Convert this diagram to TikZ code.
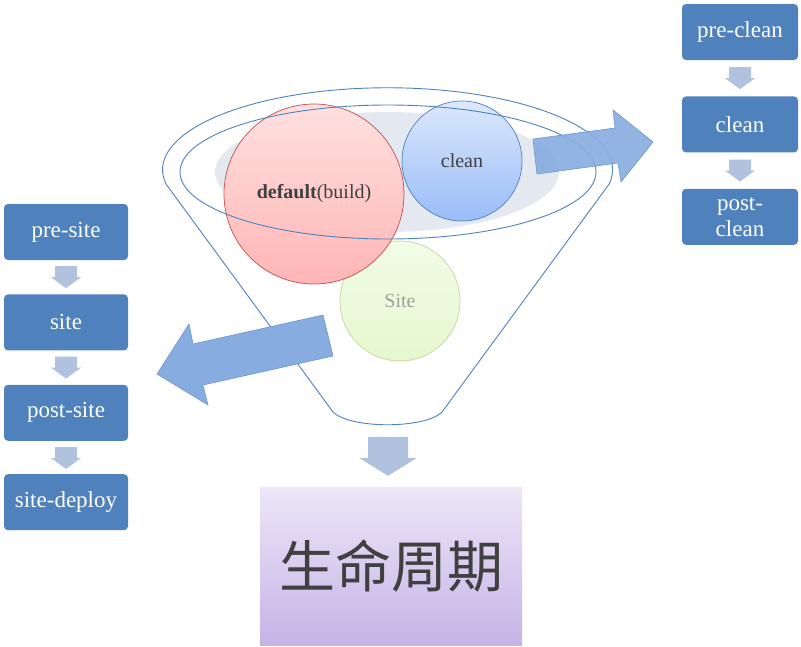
\documentclass[tikz,border=0pt]{standalone}
\usepackage{fontspec}
\setmainfont{Liberation Serif}
\newfontfamily\cjk{Noto Sans CJK SC}
\usetikzlibrary{positioning}

\definecolor{boxblue}{HTML}{4F81BD}
\definecolor{smallarrow}{HTML}{B1C2DF}
\definecolor{bigarrow}{HTML}{86ACE0}
\definecolor{bigarrowline}{HTML}{6F95CF}
\definecolor{ellgrey}{HTML}{E3E8F1}
\definecolor{txtgrey}{HTML}{404040}
\definecolor{sitegrey}{HTML}{A0A0A0}
\definecolor{siteline}{HTML}{C3D69B}
\definecolor{sitetop}{HTML}{F2FCE6}
\definecolor{sitebot}{HTML}{E5F8CF}
\definecolor{buildline}{HTML}{C0504D}
\definecolor{buildtop}{HTML}{FFE0E0}
\definecolor{buildbot}{HTML}{FFB5B5}
\definecolor{cleantop}{HTML}{DCE8FC}
\definecolor{cleanbot}{HTML}{99BCF8}
\definecolor{lifetop}{HTML}{EDE6F8}
\definecolor{lifebot}{HTML}{C5B3E7}

\begin{document}
\begin{tikzpicture}[
    x=1pt, y=-1pt,
    phase/.style={fill=boxblue, rounded corners=4pt, text=white, align=center,
        font=\fontsize{23}{26}\selectfont, inner sep=2pt, minimum height=56pt},
    lifering/.style={draw=boxblue, line width=0.9pt},
    bubble/.style={circle, line width=0.7pt, font=\fontsize{20}{24}\selectfont, text=txtgrey},
    smallarr/.pic={\fill[smallarrow] (-11,0) -- (11,0) -- (11,11) -- (15,11) -- (0,22) -- (-15,11) -- (-11,11) -- cycle;},
    bigdown/.pic={\fill[smallarrow] (-20,0) -- (20,0) -- (20,21) -- (29,21) -- (0,39) -- (-29,21) -- (-20,21) -- cycle;}]

    \useasboundingbox (0,0) rectangle (801,646);

    % the funnel
    \fill[ellgrey] (387,172) ellipse[x radius=172pt, y radius=60pt];
    \node[bubble, minimum size=120pt, draw=siteline, top color=sitetop, bottom color=sitebot, text=sitegrey] (site) at (400,301) {Site};
    \node[bubble, minimum size=180pt, draw=buildline, top color=buildtop, bottom color=buildbot] (build) at (314,194) {\textbf{default}(build)};
    \node[bubble, minimum size=120pt, draw=boxblue, top color=cleantop, bottom color=cleanbot] (clean) at (462,161) {clean};
    \draw[lifering] (388,172) ellipse[x radius=208pt, y radius=67pt];
    \draw[lifering] (166,184) arc[start angle=190, end angle=-10, x radius=225pt, y radius=82pt]
        -- (442,412) .. controls (425,429) and (350,429) .. (333,412) -- cycle;

    % big arrows
    \draw[fill=bigarrow, draw=bigarrowline, fill opacity=0.9, line width=0.6pt]
        (533,139) -- (615,128) -- (613,110) -- (653,142) -- (621,182) -- (618,163) -- (537,174) -- cycle;
    \draw[fill=bigarrow, draw=bigarrowline, line width=0.6pt]
        (323,315) -- (193,344) -- (189,324) -- (157,374) -- (208,405) -- (203,385) -- (333,356) -- cycle;

    % clean phases
    \node[phase, minimum width=116pt] (preclean) at (740,32) {pre-clean};
    \node[phase, minimum width=116pt, below=36pt of preclean] (cleanph) {clean};
    \node[phase, minimum width=116pt, below=36pt of cleanph] (postclean) {post-\\clean};
    \pic at ([yshift=-7pt]preclean.south) {smallarr};
    \pic at ([yshift=-7pt]cleanph.south) {smallarr};

    % site phases
    \node[phase, minimum width=124pt] (presite) at (66,232) {pre-site};
    \node[phase, minimum width=124pt, below=34pt of presite] (sitph) {site};
    \node[phase, minimum width=124pt, below=34pt of sitph] (postsite) {post-site};
    \node[phase, minimum width=124pt, below=33pt of postsite] (deploy) {site-deploy};
    \pic at ([yshift=-6pt]presite.south) {smallarr};
    \pic at ([yshift=-6pt]sitph.south) {smallarr};
    \pic at ([yshift=-6pt]postsite.south) {smallarr};

    % result
    \node[minimum width=262pt, minimum height=158pt, inner sep=0pt, top color=lifetop, bottom color=lifebot,
        text=txtgrey, font=\cjk\fontsize{56}{60}\selectfont] (life) at (391,566) {生命周期};
    \pic at ([xshift=-3pt, yshift=50pt]life.north) {bigdown};

\end{tikzpicture}
\end{document}
